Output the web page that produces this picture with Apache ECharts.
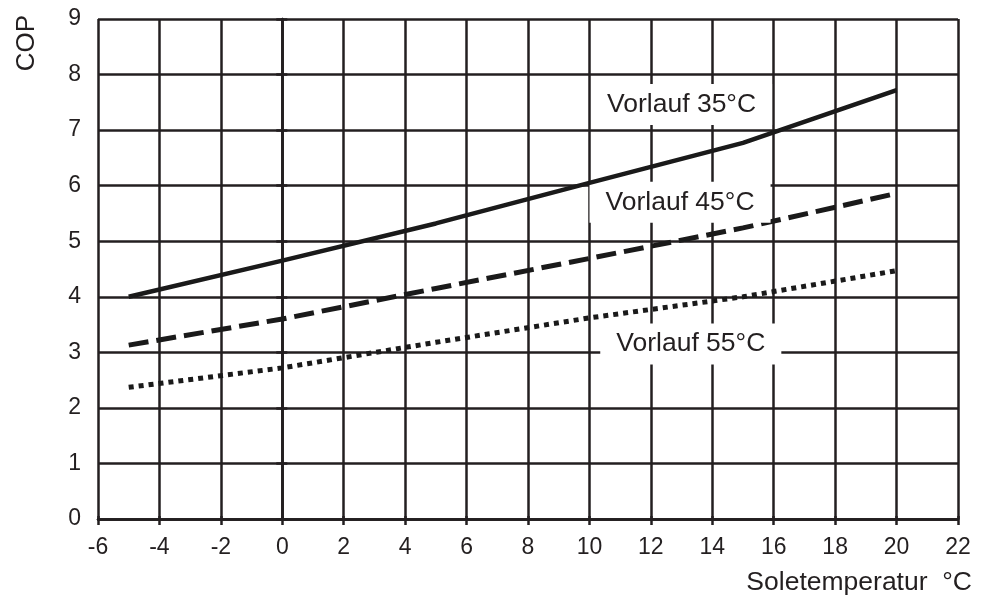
<!DOCTYPE html>
<html>
<head>
<meta charset="utf-8">
<script src="https://cdn.jsdelivr.net/npm/echarts@6/dist/echarts.min.js"></script>
<style>
html,body{margin:0;padding:0;background:#fff;}
#chart{width:992px;height:595px;}
</style>
</head>
<body>
<div id="chart"></div>
<script>
// Data
var xValues = [-5, 0, 5, 10, 15, 20];
var cop35 = [4.0, 4.65, 5.32, 6.05, 6.77, 7.72];
var cop45 = [3.13, 3.6, 4.15, 4.69, 5.24, 5.86];
var cop55 = [2.37, 2.72, 3.18, 3.62, 4.0, 4.47];
var seriesNames = ['Vorlauf 35°C', 'Vorlauf 45°C', 'Vorlauf 55°C'];
var xTitle = 'Soletemperatur  °C';
var yTitle = 'COP';

var ink = '#231f20';
var font = '"Liberation Sans", Arial, sans-serif';

function pairs(ys) { return xValues.map(function (x, i) { return [x, ys[i]]; }); }

function labelPoint(text, coord) {
  return {
    symbol: 'rect', symbolSize: 0,
    silent: true,
    label: {
      show: true, position: 'inside', formatter: text,
      fontSize: 26.5, fontFamily: font, color: ink,
      backgroundColor: '#fff', padding: [7, 16, 7, 16]
    },
    data: [{ coord: coord }]
  };
}

var chart = echarts.init(document.getElementById('chart'));
var axisLineStyle = { color: ink, width: 2.5 };
chart.setOption({
  animation: false,
  backgroundColor: '#fff',
  grid: { left: 98, right: 34, top: 19, bottom: 76, containLabel: false },
  xAxis: [{
    type: 'value', min: -6, max: 22, interval: 2, position: 'bottom',
    axisLine: { show: true, lineStyle: axisLineStyle },
    axisTick: { show: true, length: 6, lineStyle: axisLineStyle },
    splitLine: { show: true, lineStyle: axisLineStyle },
    axisLabel: { fontSize: 23, fontFamily: font, color: ink, margin: 17 }
  }, {
    type: 'value', min: -6, max: 22, interval: 2, position: 'top',
    axisLine: { show: true, lineStyle: axisLineStyle },
    axisTick: { show: true, length: 3, lineStyle: axisLineStyle },
    splitLine: { show: false },
    axisLabel: { show: false }
  }],
  yAxis: [{
    type: 'value', min: 0, max: 9, interval: 1, position: 'left',
    axisLine: { show: true, lineStyle: axisLineStyle },
    axisTick: { show: true, length: 6, lineStyle: axisLineStyle },
    splitLine: { show: true, lineStyle: axisLineStyle },
    axisLabel: { fontSize: 23, fontFamily: font, color: ink, margin: 17 }
  }, {
    type: 'value', min: 0, max: 9, interval: 1, position: 'right',
    axisLine: { show: true, lineStyle: axisLineStyle },
    axisTick: { show: true, length: 5, lineStyle: axisLineStyle },
    splitLine: { show: false },
    axisLabel: { show: false }
  }],
  graphic: [{
    type: 'text', left: 14, top: 15, rotation: Math.PI / 2,
    style: { text: yTitle, fontSize: 26, fontFamily: font, fill: ink }
  }, {
    type: 'text', right: 20, top: 569,
    style: { text: xTitle, fontSize: 26.5, fontFamily: font, fill: ink }
  }],
  series: [{
    name: seriesNames[0], type: 'line', data: pairs(cop35), showSymbol: false,
    xAxisIndex: 0, yAxisIndex: 0, z: 5,
    lineStyle: { color: '#1a1a1a', width: 4.5, type: 'solid' },
    markPoint: labelPoint(seriesNames[0], [13, 7.46])
  }, {
    name: seriesNames[1], type: 'line', data: pairs(cop45), showSymbol: false,
    xAxisIndex: 0, yAxisIndex: 0, z: 4,
    lineStyle: { color: '#1a1a1a', width: 5, type: [20, 8], cap: 'butt' },
    markPoint: labelPoint(seriesNames[1], [12.95, 5.7])
  }, {
    name: seriesNames[2], type: 'line', data: pairs(cop55), showSymbol: false,
    xAxisIndex: 0, yAxisIndex: 0, z: 4,
    lineStyle: { color: '#1a1a1a', width: 5, type: [5, 5], cap: 'butt' },
    markPoint: labelPoint(seriesNames[2], [13.3, 3.15])
  }]
});
</script>
</body>
</html>
